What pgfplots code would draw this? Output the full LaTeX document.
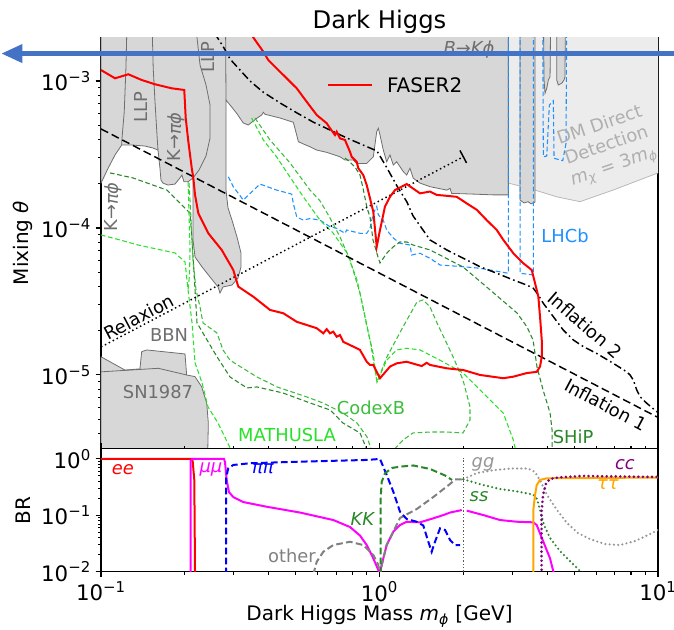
\documentclass[border=0pt]{standalone}
\usepackage{fontspec}
\setmainfont{DejaVu Sans}
\usepackage{pgfplots}
\pgfplotsset{compat=1.18}
\usetikzlibrary{arrows.meta}
\definecolor{gfill}{RGB}{215,215,215}
\definecolor{gedge}{RGB}{110,110,110}
\definecolor{dmfill}{RGB}{236,236,236}
\definecolor{dmedge}{RGB}{185,185,185}
\definecolor{dmtext}{RGB}{175,175,175}
\definecolor{lhcb}{RGB}{30,144,255}
\definecolor{mathusla}{RGB}{40,225,40}
\definecolor{codexb}{RGB}{60,190,60}
\definecolor{ship}{RGB}{40,135,40}
\definecolor{arrowblue}{RGB}{68,114,196}
\definecolor{ccpurple}{RGB}{128,0,128}
\definecolor{tauorange}{RGB}{255,165,0}
\definecolor{ggrey}{RGB}{150,150,150}
\definecolor{mag}{RGB}{255,0,255}
\definecolor{pblue}{RGB}{0,0,255}
\definecolor{pred}{RGB}{255,0,0}
\newcommand{\tp}[1]{10\textsuperscript{#1}}
\newcommand{\fbig}{\fontsize{15}{18}\selectfont}
\newcommand{\ftick}{\fontsize{16}{19}\selectfont}
\newcommand{\ftitle}{\fontsize{18.2}{22}\selectfont}
\newcommand{\fann}{\fontsize{13.4}{16}\selectfont}
\pgfplotsset{
  every axis/.append style={
    scale only axis, width=417.75pt,
    axis line style={line width=0.8pt},
    tick style={black, line width=0.8pt},
    major tick length=4pt, minor tick length=2.2pt,
    tick align=outside,
    ticklabel style={font=\ftick},
  },
  every axis y label/.style={at={(-0.140,0.5)}, rotate=90, anchor=center, font=\fbig},
  ex/.style={forget plot, line width=0.8pt, dash pattern=on 3.5pt off 2pt},
}
\begin{document}
\begin{tikzpicture}
\path[use as bounding box] (-75.75pt,-43.725pt) rectangle (429.75pt,428.775pt);
% ---------------- upper panel ----------------
\begin{axis}[at={(0pt,92.25pt)}, anchor=south west, height=308.4pt,
  xmode=log, ymode=log, xmin=0.1, xmax=10, ymin=3.15e-6, ymax=1.977e-3,
  xtick=\empty, ytick pos=left,
  ytick={1e-5,1e-4,1e-3}, yticklabels={\tp{−5},\tp{−4},\tp{−3}},
  minor ytick={4e-6,5e-6,6e-6,7e-6,8e-6,9e-6,2e-5,3e-5,4e-5,5e-5,6e-5,7e-5,8e-5,9e-5,2e-4,3e-4,4e-4,5e-4,6e-4,7e-4,8e-4,9e-4},
  ylabel={Mixing \textit{θ}},
  title={Dark Higgs},
  every axis title/.style={at={(0.5,1.0377)}, anchor=center, font=\ftitle},
]
% DM direct detection region
\addplot[forget plot, fill=dmfill, draw=dmedge, line width=0.6pt] coordinates {
(2.902,3e-3) (2.902,2.02e-4) (3.196,1.93e-4) (3.618,1.81e-4) (4.329,1.63e-4) (5.247,1.51e-4) (6.893,1.81e-4) (10,2.37e-4) (11,2.5e-4) (11,3e-3)} -- cycle;
% main grey exclusion region (K->pi phi, LLP, B->K phi)
\addplot[forget plot, fill=gfill, draw=gedge, line width=0.6pt] coordinates {
(0.1,3e-3) (0.1,2.02e-4) (0.1062,2.56e-4) (0.1123,3.14e-4) (0.1187,3.67e-4) (0.1289,3.67e-4) (0.1439,3.61e-4) (0.1537,3.50e-4) (0.1602,3.39e-4) (0.1628,2.56e-4) (0.1642,2.12e-4) (0.1669,2.02e-4) (0.1740,1.96e-4) (0.1844,1.99e-4) (0.1921,2.19e-4) (0.1953,2.29e-4) (0.1986,2.06e-4) (0.2054,2.06e-4) (0.2140,2.19e-4) (0.2140,1.19e-4) (0.2140,8.29e-5) (0.2176,6.35e-5) (0.2306,5.43e-5) (0.2463,4.64e-5) (0.2631,3.97e-5) (0.2675,3.61e-5) (0.2742,3.97e-5) (0.2954,4.09e-5) (0.3104,4.57e-5) (0.3182,5.43e-5) (0.3182,6.76e-5) (0.3078,8.69e-5) (0.2954,1.13e-4) (0.2858,1.37e-4) (0.2811,1.81e-4) (0.2811,3.39e-4) (0.2811,7.42e-4) (0.2906,6.87e-4) (0.3070,6.03e-4) (0.3243,5.18e-4) (0.3380,5.02e-4) (0.3622,5.57e-4) (0.3776,5.87e-4) (0.3827,6.12e-4) (0.3881,5.94e-4) (0.4393,5.60e-4) (0.4904,5.24e-4) (0.5044,4.29e-4) (0.5112,3.87e-4) (0.5257,3.77e-4) (0.5631,3.57e-4) (0.5951,3.39e-4) (0.6464,3.27e-4) (0.7215,3.05e-4) (0.7518,2.90e-4) (0.8052,2.90e-4) (0.8282,2.75e-4) (0.8997,2.75e-4) (0.9502,3.05e-4) (0.9773,4.52e-4) (0.9902,4.77e-4) (1.0042,4.29e-4) (1.0319,3.39e-4) (1.0612,2.82e-4) (1.0906,3.14e-4) (1.1207,2.68e-4) (1.1527,2.82e-4) (1.2173,2.42e-4) (1.2520,2.29e-4) (1.2866,2.55e-4) (1.3223,2.18e-4) (1.3978,2.02e-4) (1.5184,1.91e-4) (1.7439,1.81e-4) (1.7923,1.86e-4) (1.816,1.72e-4) (2.1726,1.70e-4) (2.5633,1.68e-4) (2.902,1.68e-4) (2.902,3e-3)} -- cycle;
% internal outlines
\addplot[forget plot, gedge, line width=0.6pt] coordinates {(0.1243,3e-3) (0.1229,1.226e-3) (0.1212,6.18e-4) (0.1187,3.87e-4) (0.1187,3.67e-4)};
\addplot[forget plot, gedge, line width=0.6pt] coordinates {(0.1521,3e-3) (0.1540,1.22e-3) (0.1563,7.23e-4) (0.1589,4.29e-4) (0.1602,3.39e-4)};
\addplot[forget plot, gedge, line width=0.6pt] coordinates {(0.2158,3e-3) (0.2268,1.285e-3) (0.2383,9.39e-4) (0.2463,6.87e-4) (0.2463,4.09e-4) (0.2383,3.09e-4) (0.2249,2.48e-4) (0.2140,2.19e-4)};
\addplot[forget plot, gedge, line width=0.6pt] coordinates {(0.2799,3e-3) (0.2811,7.42e-4)};
% dark grey bands near 3-5 GeV
\addplot[forget plot, fill=gfill, draw=gedge, line width=0.6pt] coordinates {(3.196,3e-3) (3.196,1.55e-4) (3.304,1.48e-4) (3.415,1.51e-4) (3.499,1.46e-4) (3.618,1.50e-4) (3.618,3e-3)} -- cycle;
\addplot[forget plot, fill=gfill, draw=gedge, line width=0.6pt] coordinates {(3.8755,3e-3) (3.898,1.016e-3) (3.930,8.25e-4) (3.986,8.92e-4) (4.0395,1.016e-3) (4.0966,1.070e-3) (4.1203,3e-3)} -- cycle;
\addplot[forget plot, fill=gfill, draw=gedge, line width=0.6pt] coordinates {(4.3287,3e-3) (4.3287,1.016e-3) (4.3859,9.39e-4) (4.5118,9.65e-4) (4.5979,1.016e-3) (4.6362,1.070e-3) (4.6479,3e-3)} -- cycle;
% BBN and SN1987
\addplot[forget plot, fill=gfill, draw=gedge, line width=0.6pt] coordinates {
(0.1,1.33e-5) (0.1219,1.08e-5) (0.1380,1.10e-5) (0.1400,1.44e-5) (0.1459,1.48e-5) (0.2003,1.39e-5) (0.2030,1.00e-5) (0.2176,9.74e-6) (0.2298,8.32e-6) (0.2397,6.42e-6) (0.2429,4.69e-6) (0.2417,3e-6) (0.1,3e-6)} -- cycle;
\addplot[forget plot, gedge, line width=0.6pt] coordinates {(0.1,1.05e-5) (0.1606,1.11e-5) (0.2030,1.00e-5)};
% LHCb
\addplot[ex, lhcb] coordinates {
(0.2865,2.23e-4) (0.2985,1.91e-4) (0.3243,1.55e-4) (0.3724,1.99e-4) (0.4275,1.81e-4) (0.4840,1.70e-4) (0.4904,1.47e-4) (0.5044,1.19e-4) (0.5327,1.13e-4) (0.5631,1.16e-4) (0.6116,1.13e-4) (0.6643,1.02e-4) (0.7020,9.95e-5) (0.7518,9.20e-5) (0.7625,9.69e-5) (0.8052,9.44e-5) (0.8511,9.20e-5) (0.8997,9.20e-5) (0.9245,9.95e-5) (0.9502,1.26e-4) (0.9773,1.40e-4) (0.9902,1.23e-4) (1.0319,1.13e-4) (1.0612,9.69e-5) (1.1207,8.55e-5) (1.1845,7.87e-5) (1.2866,7.66e-5) (1.3049,6.55e-5) (1.3978,6.73e-5) (1.5184,6.22e-5) (1.6497,5.60e-5) (2.0,5.45e-5) (2.2964,5.32e-5) (2.902,4.92e-5) (2.902,3e-3)};
\addplot[ex, lhcb] coordinates {(3.196,3e-3) (3.196,4.92e-5) (3.5675,4.79e-5) (3.5675,3e-3)};
\addplot[ex, lhcb] coordinates {(3.8568,3e-3) (3.8755,3.05e-4) (3.986,3.09e-4) (4.0731,6.87e-4) (4.2094,7.34e-4) (4.2337,2.98e-4) (4.5494,2.87e-4) (4.6747,3.77e-4) (4.7017,3e-3)};
% SHiP
\addplot[ex, ship] coordinates {
(0.1077,2.37e-4) (0.1303,2.19e-4) (0.1726,1.81e-4) (0.2088,1.26e-4) (0.2123,8.29e-5) (0.2158,4.94e-5) (0.2212,2.26e-5) (0.2403,1.73e-5) (0.2609,1.33e-5) (0.2906,9.69e-6) (0.3343,8.16e-6) (0.3631,8.29e-6) (0.4503,7.54e-6) (0.5631,6.45e-6) (0.6643,5.78e-6) (0.7396,4.71e-6) (0.8511,4.03e-6) (0.915,2.9e-6)};
\addplot[ex, ship] coordinates {
(0.7518,2.99e-4) (0.7836,2.81e-4) (0.8166,2.60e-4) (0.8511,2.29e-4) (0.8725,1.87e-4) (0.9019,1.37e-4) (0.9245,1.19e-4) (0.9478,8.29e-5) (0.9877,6.35e-5) (1.0042,5.78e-5) (1.0638,6.76e-5) (1.1180,7.42e-5) (1.1845,8.03e-5) (1.2552,8.03e-5) (1.3190,7.66e-5) (1.5184,7.09e-5) (1.9949,5.43e-5) (2.4946,3.79e-5) (3.1182,2.64e-5) (3.3863,2.12e-5) (3.5593,1.73e-5) (3.6788,1.13e-5) (3.8665,7.91e-6) (4.0966,5.51e-6) (4.165,4.23e-6) (4.165,2.9e-6)};
% CodexB
\addplot[ex, codexb] coordinates {
(0.2071,2.02e-4) (0.2106,1.13e-4) (0.2140,6.06e-5) (0.2194,3.79e-5) (0.2268,2.90e-5) (0.2324,2.26e-5) (0.2609,1.93e-5) (0.2742,1.48e-5) (0.2906,1.26e-5) (0.3631,9.69e-6) (0.4285,8.29e-6) (0.5492,7.08e-6) (0.6269,6.45e-6) (0.7396,5.51e-6) (0.8303,4.71e-6) (0.9019,3.79e-6) (0.9400,3.0e-6)};
\addplot[ex, codexb] coordinates {
(0.3572,5.60e-4) (0.4044,3.97e-4) (0.4772,2.77e-4) (0.5631,1.81e-4) (0.6116,1.53e-4) (0.6643,1.17e-4) (0.7215,8.69e-5) (0.7836,6.06e-5) (0.8511,3.61e-5) (0.9019,2.12e-5) (0.9478,1.41e-5) (0.9795,8.96e-6) (1.0638,1.33e-5) (1.2142,2.12e-5) (1.3635,3.14e-5) (1.4328,3.24e-5) (1.5184,2.90e-5) (1.6090,2.26e-5) (1.8372,1.33e-5) (1.9949,9.25e-6) (2.1138,6.06e-6) (2.1138,4.94e-6) (1.9949,4.03e-6) (1.7484,4.09e-6) (1.5184,4.09e-6) (1.3190,4.03e-6) (1.2142,3.61e-6) (1.1088,3.0e-6)};
% MATHUSLA
\addplot[ex, mathusla] coordinates {
(0.1,8.96e-5) (0.1170,8.29e-5) (0.1358,7.66e-5) (0.1844,6.76e-5) (0.2003,5.87e-5) (0.2054,3.79e-5) (0.2123,2.26e-5) (0.2176,1.21e-5) (0.2306,8.83e-6) (0.2423,6.06e-6) (0.2631,4.71e-6) (0.2954,3.0e-6)};
\addplot[ex, mathusla] coordinates {(0.2054,2.06e-4) (0.2071,1.23e-4) (0.2088,7.09e-5) (0.2079,4.79e-5) (0.2054,3.79e-5)};
\addplot[ex, mathusla] coordinates {
(0.3476,5.60e-4) (0.3827,3.97e-4) (0.4275,3.04e-4) (0.4772,2.22e-4) (0.5327,1.63e-4) (0.6116,1.13e-4) (0.6808,9.25e-5) (0.7644,6.76e-5) (0.8303,4.43e-5) (0.8725,2.90e-5) (0.9245,1.73e-5) (0.9795,8.96e-6) (1.0612,1.26e-5) (1.1527,1.48e-5) (1.2520,1.52e-5) (1.3978,1.48e-5) (1.6497,1.26e-5) (2.0,1.03e-5) (2.2345,8.32e-6) (2.4946,6.76e-6) (2.7842,5.49e-6) (3.0241,3.61e-6) (3.09,3.0e-6)};
% Inflation 1 (dashed)
\addplot[forget plot, black, line width=1.1pt, dash pattern=on 6pt off 3pt] coordinates {(0.1,4.72e-4) (10,5.14e-6)};
% Inflation 2 (dash-dot)
\addplot[forget plot, black, line width=1.1pt, dash pattern=on 6pt off 2.5pt on 1.2pt off 2.5pt] coordinates {
(0.2557,2.12e-3) (0.2765,1.677e-3) (0.2906,1.411e-3) (0.3156,1.188e-3) (0.3428,1.0e-3) (0.3817,8.42e-4) (0.4393,7.09e-4) (0.5057,6.06e-4) (0.5772,5.26e-4) (0.6643,4.64e-4) (0.7644,4.09e-4) (0.8725,3.67e-4) (0.9795,3.34e-4) (1.0638,2.56e-4) (1.1557,1.93e-4) (1.2552,1.50e-4) (1.3190,1.21e-4) (1.5184,8.29e-5) (1.7439,7.09e-5) (2.0,6.22e-5) (2.2964,5.45e-5) (2.6363,4.92e-5) (3.0241,4.43e-5) (3.3785,4.09e-5) (3.5675,3.89e-5) (3.7188,3.50e-5) (3.8755,3.07e-5) (4.2094,2.49e-5) (4.571,2.02e-5) (4.966,1.73e-5) (5.3926,1.56e-5) (6.0249,1.40e-5) (6.9105,1.20e-5) (7.7201,1.05e-5) (7.9349,1.00e-5) (8.1536,9.25e-6) (8.3860,7.91e-6) (8.6184,7.12e-6) (9.1101,6.42e-6) (9.8946,5.63e-6) (10.3,5.4e-6)};
% Relaxion (dotted) with end tick
\addplot[forget plot, black, line width=1.1pt, dash pattern=on 1.1pt off 2.2pt] coordinates {(0.1,1.55e-5) (2.0,3.05e-4)};
\addplot[forget plot, black, line width=1.1pt] coordinates {(1.945,3.37e-4) (2.054,2.77e-4)};
% FASER2
\addplot[forget plot, pred, line width=1.5pt] coordinates {
(0.1,1.188e-3) (0.1123,1.043e-3) (0.1253,1.111e-3) (0.1400,1.016e-3) (0.1563,9.50e-4) (0.1794,8.92e-4) (0.1991,8.69e-4) (0.2015,5.57e-4) (0.2059,3.87e-4) (0.2118,2.55e-4) (0.2146,2.18e-4) (0.2176,1.68e-4) (0.2236,1.26e-4) (0.2429,9.20e-5) (0.2713,7.09e-5) (0.2985,5.18e-5) (0.3112,3.99e-5) (0.3522,3.41e-5) (0.4044,2.77e-5) (0.4514,2.63e-5) (0.5044,2.30e-5) (0.5951,2.08e-5) (0.6285,1.92e-5) (0.6464,2.05e-5) (0.6643,1.92e-5) (0.6826,1.97e-5) (0.7020,1.82e-5) (0.7215,1.87e-5) (0.7413,1.68e-5) (0.8282,1.52e-5) (0.8511,1.48e-5) (0.8997,1.23e-5) (0.9245,1.17e-5) (0.9502,1.17e-5) (0.9773,1.05e-5) (1.0042,9.50e-6) (1.0906,1.14e-5) (1.1527,1.20e-5) (1.2520,1.23e-5) (1.4177,1.15e-5) (1.4775,1.21e-5) (1.5184,1.17e-5) (1.7439,1.11e-5) (2.0,1.08e-5) (2.2964,1.00e-5) (2.7842,9.50e-6) (3.0241,9.74e-6) (3.3785,1.03e-5) (3.6695,1.05e-5) (3.7714,1.14e-5) (3.8248,1.33e-5) (3.8248,1.73e-5) (3.7714,2.49e-5) (3.7188,3.41e-5) (3.6695,3.79e-5) (3.5209,5.18e-5) (3.2847,5.75e-5) (3.0241,6.73e-5) (2.7842,8.29e-5) (2.6363,9.69e-5) (2.4270,1.13e-4) (2.2345,1.33e-4) (2.0568,1.47e-4) (1.8937,1.63e-4) (1.6050,1.68e-4) (1.5184,1.77e-4) (1.3978,1.72e-4) (1.2520,1.99e-4) (1.1366,1.81e-4) (1.0906,1.63e-4) (1.0464,1.40e-4) (1.0042,9.69e-5) (0.9773,7.46e-5) (0.9502,1.29e-4) (0.9245,1.59e-4) (0.8997,1.96e-4) (0.8747,2.29e-4) (0.8394,2.55e-4) (0.8282,2.82e-4) (0.7947,3.05e-4) (0.7836,3.30e-4) (0.7518,3.97e-4) (0.7215,4.07e-4) (0.7020,4.52e-4) (0.6922,4.29e-4) (0.6643,4.77e-4) (0.6464,5.16e-4) (0.5951,5.87e-4) (0.5476,7.23e-4) (0.5044,8.92e-4) (0.4393,1.157e-3) (0.3988,1.389e-3) (0.3827,1.582e-3) (0.3522,1.98e-3) (0.345,2.2e-3)};
% legend (drawn in axis description coordinates)
\draw[pred, line width=1.5pt] (axis description cs:0.4075,0.8845) -- ++(33pt,0pt);
\node[anchor=west, inner sep=0pt, font=\fbig] at (axis description cs:0.513,0.8845) {FASER2};
% annotations
\node[gedge, font=\fann, rotate=90] at (axis cs:0.1392,6.65e-4) {LLP};
\node[gedge, font=\fann, rotate=90] at (axis cs:0.2423,1.456e-3) {LLP};
\node[gedge, font=\fann, rotate=90] at (axis cs:0.1860,4.16e-4) {K→\textit{πϕ}};
\node[gedge, font=\fann, rotate=90] at (axis cs:0.1104,1.39e-4) {K→\textit{πϕ}};
\node[gedge, font=\fann] at (axis cs:2.0962,1.625e-3) {\textit{B}→\textit{Kϕ}};
\node[dmtext, font=\fann, rotate=19, align=center] at (axis cs:6.56,3.56e-4) {DM Direct\\Detection\\\textit{m}\textsubscript{\textit{χ}} = 3\textit{m}\textsubscript{\textit{ϕ}}};
\node[lhcb, font=\fann] at (axis cs:4.6362,8.83e-5) {LHCb};
\node[gedge, font=\fann] at (axis cs:0.1754,1.87e-5) {BBN};
\node[gedge, font=\fann] at (axis cs:0.1602,7.66e-6) {SN1987};
\node[black, font=\fann, rotate=27.7] at (axis cs:0.1369,2.48e-5) {Relaxion};
\node[black, font=\fann, rotate=-41] at (axis cs:5.47,2.19e-5) {Inflation 2};
\node[black, font=\fann, rotate=-28] at (axis cs:6.506,6.25e-6) {Inflation 1};
\node[codexb, font=\fann] at (axis cs:0.9322,5.96e-6) {CodexB};
\node[mathusla, font=\fann] at (axis cs:0.4654,3.91e-6) {MATHUSLA};
\node[ship, font=\fann] at (axis cs:4.953,3.79e-6) {SHiP};
\end{axis}
% ---------------- lower panel ----------------
\begin{axis}[at={(0pt,0pt)}, anchor=south west, height=92.25pt,
  xmode=log, ymode=log, xmin=0.1, xmax=10, ymin=0.01, ymax=1.52,
  xtick={0.1,1,10}, xticklabels={\tp{−1},\tp{0},\tp{1}},
  minor xtick={0.2,0.3,0.4,0.5,0.6,0.7,0.8,0.9,2,3,4,5,6,7,8,9},
  xtick pos=both, xticklabel pos=bottom, ytick pos=left,
  ytick={0.01,0.1,1}, yticklabels={\tp{−2},\tp{−1},\tp{0}},
  minor ytick={0.02,0.03,0.04,0.05,0.06,0.07,0.08,0.09,0.2,0.3,0.4,0.5,0.6,0.7,0.8,0.9},
  xlabel={Dark Higgs Mass \textit{m}\textsubscript{\textit{ϕ}} [GeV]},
  every axis x label/.style={at={(0.5,-0.364)}, anchor=center, font=\fbig},
  ylabel={BR},
]
\addplot[gray!70!black, line width=0.5pt, dash pattern=on 1pt off 1.5pt] coordinates {(2,0.01) (2,1.05)};
\addplot[pred, line width=1.5pt] coordinates {(0.1,1) (0.2118,1) (0.2135,0.895) (0.2163,0.424) (0.2176,0.009)};
\addplot[mag, line width=1.5pt] coordinates {(0.2100,0.009) (0.2100,0.92) (0.2125,1.0) (0.2765,1.0) (0.2788,0.874) (0.2827,0.424) (0.2880,0.259) (0.2985,0.211) (0.3243,0.172) (0.3936,0.142) (0.5184,0.112) (0.6826,0.0825) (0.7836,0.0620) (0.8511,0.0438) (0.8997,0.0297) (0.9502,0.0172) (0.9902,0.0107) (1.0,0.009) (1.0184,0.0131) (1.0319,0.0172) (1.0612,0.0297) (1.1207,0.0511) (1.1845,0.0672) (1.2520,0.0770) (1.3978,0.0751) (1.5605,0.0885) (1.6955,0.101) (1.7923,0.112) (1.9738,0.124)};
\addplot[mag, line width=1.5pt] coordinates {(2.0568,0.121) (2.3596,0.101) (2.7095,0.0825) (3.1102,0.0770) (3.5675,0.0751) (3.6695,0.0672) (3.8755,0.0340) (4.0966,0.0172) (4.2337,0.009)};
\addplot[gray, line width=1.5pt, dash pattern=on 5pt off 2.5pt] coordinates {(0.5787,0.009) (0.5951,0.0150) (0.6285,0.0226) (0.6826,0.0297) (0.7836,0.0340) (0.8747,0.0297) (0.9502,0.0197) (0.9902,0.0131) (1.0042,0.009) (1.0184,0.0131) (1.0612,0.0297) (1.1207,0.0511) (1.1845,0.0896) (1.3600,0.129) (1.5605,0.211) (1.7923,0.360) (1.8672,0.432) (2.0,0.436)};
\addplot[pblue, line width=1.5pt, dash pattern=on 5pt off 2.5pt] coordinates {(0.2811,0.009) (0.2811,0.460) (0.2865,0.684) (0.2985,0.782) (0.3428,0.839) (0.5184,0.895) (0.8997,0.960) (1.0042,1.0) (1.0612,0.520) (1.1207,0.263) (1.1845,0.116) (1.2520,0.0860) (1.3600,0.0770) (1.4366,0.0659) (1.4970,0.0340) (1.5398,0.0226) (1.5825,0.0340) (1.6497,0.0588) (1.7196,0.0548) (1.7923,0.0364) (1.8672,0.0297) (1.9463,0.0297)};
\addplot[ship, line width=1.5pt, dash pattern=on 5pt off 2.5pt] coordinates {(1.01,0.009) (1.01,0.211) (1.0184,0.390) (1.0464,0.557) (1.1088,0.692) (1.1845,0.730) (1.3223,0.766) (1.5184,0.664) (1.7196,0.509) (1.8220,0.424)};
\addplot[ggrey, line width=1.8pt, line cap=round, dash pattern=on 0pt off 3.2pt] coordinates {(2.0,0.436) (2.2400,0.564) (2.5995,0.638) (2.9916,0.678) (3.4146,0.678) (3.6183,0.588) (3.801,0.390) (3.9961,0.229) (4.3397,0.124) (4.7136,0.0730) (5.1603,0.0485) (5.6992,0.0379) (6.4522,0.0309) (7.3050,0.0297) (8.2690,0.0350) (9.2074,0.0447) (10.0,0.0548)};
\addplot[ship, line width=1.8pt, line cap=round, dash pattern=on 0pt off 3.2pt] coordinates {(2.0,0.436) (2.3537,0.345) (2.7095,0.293) (3.1182,0.265) (3.5593,0.234) (3.6788,0.195) (3.7714,0.124) (3.8979,0.0672) (4.0966,0.0395) (4.4488,0.0232) (4.8306,0.0154) (5.2903,0.0099) (5.47,0.0088)};
\addplot[tauorange, line width=1.5pt] coordinates {(3.5675,0.009) (3.5675,0.124) (3.6183,0.229) (3.6695,0.345) (3.7714,0.424) (3.986,0.454) (6.1918,0.460) (10.0,0.469)};
\addplot[ccpurple, line width=2.2pt, line cap=round, dash pattern=on 0pt off 3.4pt] coordinates {(3.8186,0.009) (3.8186,0.116) (3.8665,0.229) (3.962,0.370) (4.0966,0.441) (4.4488,0.473) (5.3926,0.499) (8.1536,0.485) (10.0,0.479)};
\node[pred, font=\fann] at (axis cs:0.1199,0.638) {\textit{ee}};
\node[mag, font=\fann] at (axis cs:0.2483,0.638) {\textit{μμ}};
\node[pblue, font=\fann] at (axis cs:0.3817,0.664) {\textit{ππ}};
\node[ship, font=\fann] at (axis cs:0.8725,0.0860) {\textit{KK}};
\node[gray, font=\fann] at (axis cs:0.4851,0.0189) {other};
\node[ggrey, font=\fann] at (axis cs:2.3537,0.815) {\textit{gg}};
\node[ship, font=\fann] at (axis cs:2.277,0.211) {\textit{ss}};
\node[ccpurple, font=\fann] at (axis cs:7.61,0.782) {\textit{cc}};
\node[tauorange, font=\fann] at (axis cs:6.614,0.345) {\textit{ττ}};
\end{axis}
% overlaid arrow annotation
\draw[arrowblue, line width=4pt, -{Triangle[length=16pt, width=13pt]}] (429.75pt,388.6pt) -- (-75pt,388.6pt);
\end{tikzpicture}
\end{document}
